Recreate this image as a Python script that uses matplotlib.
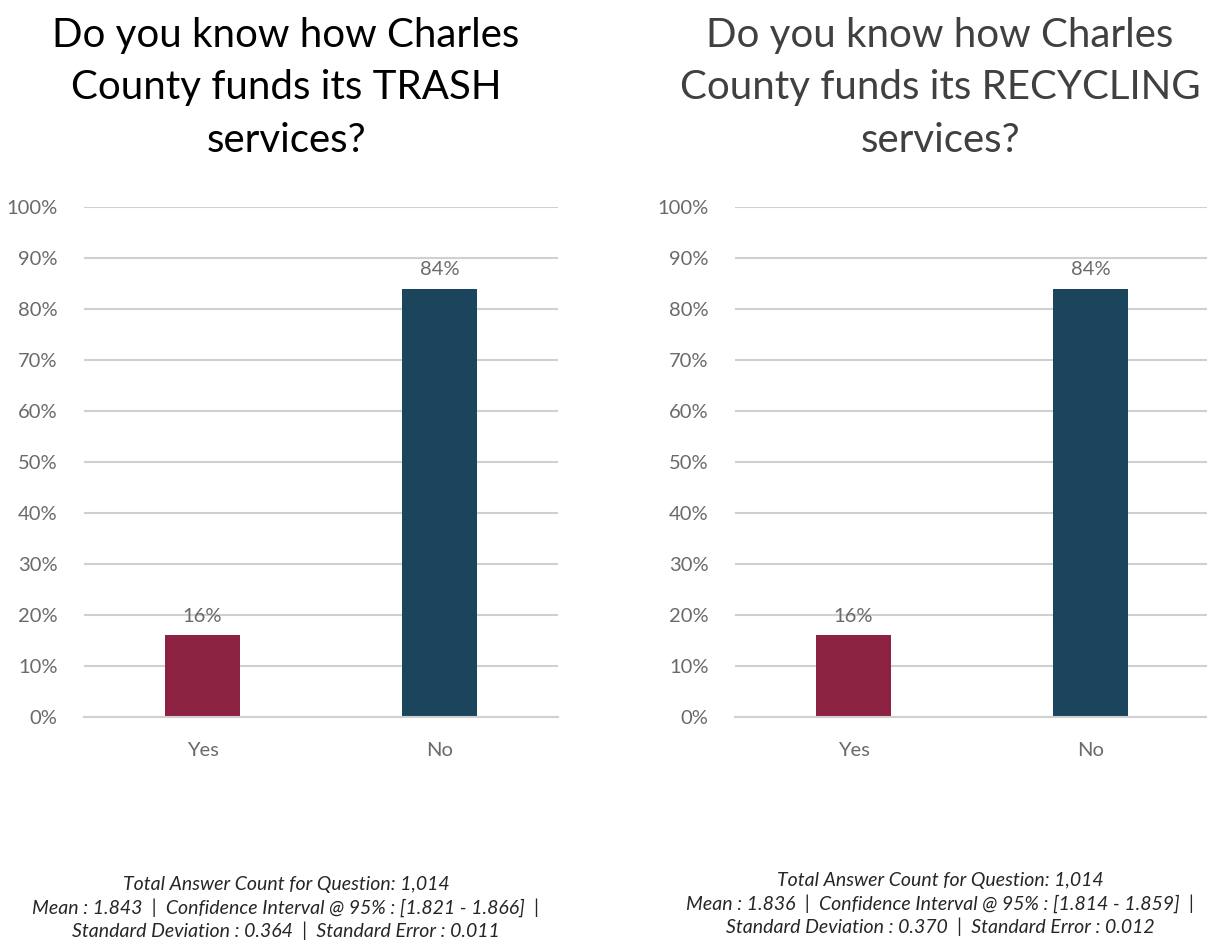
import matplotlib.pyplot as plt

plt.rcParams['font.family'] = ['Lato', 'DejaVu Sans']

categories = ['Yes', 'No']
trash_values = [16, 84]
recycling_values = [16, 84]
bar_colors = ['#8b2242', '#1a455d']

titles = ['Do you know how Charles\nCounty funds its TRASH\nservices?',
          'Do you know how Charles\nCounty funds its RECYCLING\nservices?']
title_colors = ['black', '#404040']

footers = [
    'Total Answer Count for Question: 1,014\n'
    'Mean : 1.843  |  Confidence Interval @ 95% : [1.821 - 1.866]  |\n'
    'Standard Deviation : 0.364  |  Standard Error : 0.011',
    'Total Answer Count for Question: 1,014\n'
    'Mean : 1.836  |  Confidence Interval @ 95% : [1.814 - 1.859]  |\n'
    'Standard Deviation : 0.370  |  Standard Error : 0.012',
]

W, H = 1207, 944
fig = plt.figure(figsize=(W / 100, H / 100), dpi=100, facecolor='w')

# axes boxes in pixels: left, right, top, bottom
boxes = [(84, 558, 207, 717), (735, 1209, 207, 717)]
title_x = [286, 940]
footer_y = [908, 904]

for i, values in enumerate([trash_values, recycling_values]):
    l, r, t, b = boxes[i]
    ax = fig.add_axes([l / W, 1 - b / H, (r - l) / W, (b - t) / H])
    ax.set_ylim(0, 100)
    ax.set_xlim(-0.5, 1.5)
    ax.set_yticks(range(0, 101, 10))
    ax.set_yticklabels([f'{v}%' for v in range(0, 101, 10)])
    ax.yaxis.grid(True, color='#d0d0d0', linewidth=1.5)
    ax.set_axisbelow(True)
    for s in ['top', 'right', 'left']:
        ax.spines[s].set_visible(False)
    ax.spines['bottom'].set_color('#d0d0d0')
    ax.spines['bottom'].set_linewidth(1.5)
    ax.tick_params(length=0, colors='#6a6a6a', labelsize=14.5)
    ax.tick_params(axis='y', pad=19)
    ax.tick_params(axis='x', pad=18)

    ax.bar(range(len(categories)), values, width=0.316, color=bar_colors)
    ax.set_xticks(range(len(categories)))
    ax.set_xticklabels(categories)
    for x, v in enumerate(values):
        ax.text(x, v + 2, f'{v}%', ha='center', va='bottom', fontsize=14.5,
                color='#6a6a6a')

    fig.text(title_x[i] / W, 1 - 88 / H, titles[i], ha='center', va='center',
             fontsize=29, color=title_colors[i], linespacing=1.5)
    fig.text(title_x[i] / W, 1 - footer_y[i] / H, footers[i], ha='center', va='center',
             fontsize=14, style='italic', color='#262626', linespacing=1.32)

fig.savefig('out.png', dpi=100, facecolor='w')
